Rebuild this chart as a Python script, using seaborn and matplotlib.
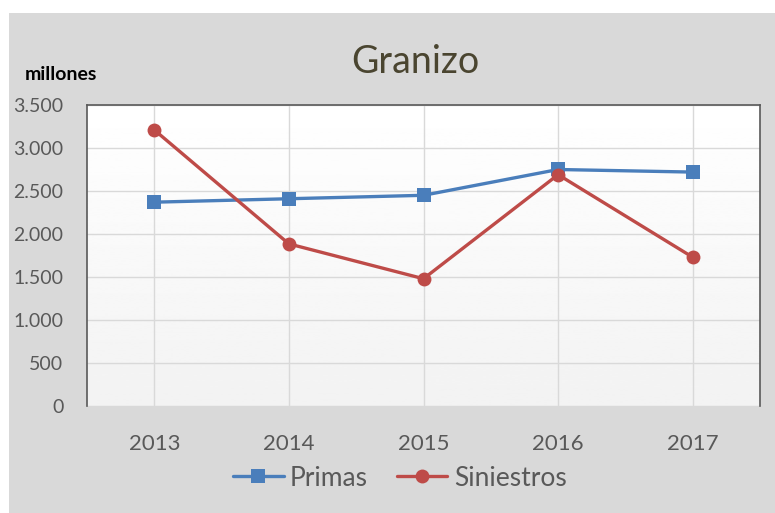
import numpy as np
import pandas as pd
import matplotlib
matplotlib.use("Agg")
import matplotlib.pyplot as plt
from matplotlib.patches import Rectangle
from matplotlib.lines import Line2D
import seaborn as sns

years = ["2013", "2014", "2015", "2016", "2017"]
primas = [2370, 2410, 2450, 2750, 2720]
siniestros = [3210, 1885, 1480, 2690, 1730]
series_names = ["Primas", "Siniestros"]
yticks = [0, 500, 1000, 1500, 2000, 2500, 3000, 3500]
ytick_labels = ["0", "500", "1.000", "1.500", "2.000", "2.500", "3.000", "3.500"]

df = pd.DataFrame({
    "year": years * 2,
    "value": primas + siniestros,
    "serie": [series_names[0]] * len(years) + [series_names[1]] * len(years),
})

sns.set_theme(style="white")
plt.rcParams["font.family"] = ["Lato", "DejaVu Sans"]

fig = plt.figure(figsize=(7.75, 5.13), dpi=100)
fig.patch.set_facecolor("white")
fig.patches.append(Rectangle((9 / 775, 0), 1, 1 - 13 / 513, transform=fig.transFigure,
                             facecolor="#d9d9d9", edgecolor="none", zorder=-20))

ax = fig.add_axes([87 / 775, 107 / 513, (760 - 87) / 775, (406 - 105) / 513])
ax.set_facecolor("none")

grad = np.linspace(0.95, 1.0, 256).reshape(-1, 1)
ax.imshow(grad, extent=[0, 1, 0, 1], transform=ax.transAxes, aspect="auto",
          cmap="gray", vmin=0, vmax=1, origin="lower", zorder=-10)

palette = {"Primas": "#4a7ebb", "Siniestros": "#be4b48"}
sns.lineplot(data=df, x="year", y="value", hue="serie", style="serie",
             markers={"Primas": "s", "Siniestros": "o"}, dashes=False,
             palette=palette, linewidth=2.4, markersize=10, markeredgewidth=0,
             sort=False, ax=ax, legend=False)

ax.set_xlim(-0.5, len(years) - 0.5)
ax.set_ylim(0, 3500)
ax.set_yticks(yticks)
ax.set_yticklabels(ytick_labels)
ax.grid(True, color="#d9d9d9", linewidth=1.0)
ax.set_axisbelow(True)
ax.set_xlabel("")
ax.set_ylabel("")

for s in ["left", "top", "right"]:
    ax.spines[s].set_visible(True)
    ax.spines[s].set_color("#595959")
    ax.spines[s].set_linewidth(1.2)
ax.spines["bottom"].set_visible(False)

ax.tick_params(axis="y", length=0, pad=17, labelsize=14, labelcolor="#595959")
ax.tick_params(axis="x", length=0, pad=20, labelsize=16, labelcolor="#595959")

fig.text(415 / 775, 1 - 62 / 513, "Granizo", ha="center", va="center",
         fontsize=27, color="#4a4530")
fig.text(25 / 775, 1 - 75 / 513, "millones", ha="left", va="center",
         fontsize=14, fontweight="bold", color="black")

handles = [Line2D([0], [0], color=palette[n], marker=m, markersize=10,
                  markeredgewidth=0, linewidth=2.4)
           for n, m in zip(series_names, ["s", "o"])]
fig.legend(handles, series_names, loc="center", bbox_to_anchor=(400 / 775, 1 - 478 / 513),
           ncol=2, frameon=False, fontsize=19, labelcolor="#595959",
           handlelength=1.9, handletextpad=0.25, columnspacing=1.1)

fig.savefig("out.png", dpi=100)
